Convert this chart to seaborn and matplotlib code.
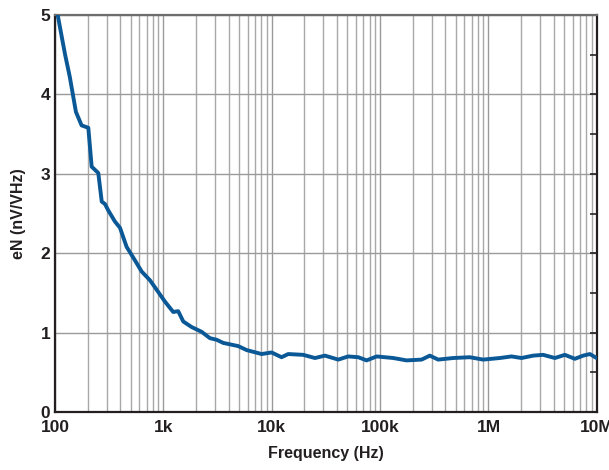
import numpy as np
import pandas as pd
import matplotlib.pyplot as plt
import seaborn as sns
from matplotlib.ticker import FixedLocator, LogLocator, NullFormatter, MultipleLocator

# Data (frequency in Hz, noise in nV/rtHz)
freq = [106, 111, 124, 137, 156, 176, 203, 218, 251, 270, 289, 310, 357, 398, 458,
        547, 630, 752, 867, 1035, 1233, 1371, 1527, 1824, 2255, 2690, 3100, 3573,
        4910, 5870, 8070, 9970, 12330, 14190, 19530, 25050, 30980, 41080, 50800,
        62840, 75100, 92900, 132200, 175500, 241400, 287900, 343600, 472400,
        673000, 893000, 1273000, 1633000, 2019000, 2587000, 3199000, 4100000,
        5070000, 6270000, 7480000, 8630000, 9940000]
noise = [5.0, 4.85, 4.5, 4.22, 3.78, 3.61, 3.58, 3.09, 3.01, 2.65, 2.62, 2.54, 2.40,
         2.32, 2.08, 1.91, 1.77, 1.66, 1.54, 1.39, 1.26, 1.27, 1.14, 1.07, 1.01, 0.93,
         0.91, 0.87, 0.83, 0.78, 0.73, 0.75, 0.69, 0.73, 0.72, 0.68, 0.71, 0.66, 0.70,
         0.69, 0.65, 0.70, 0.68, 0.65, 0.66, 0.71, 0.66, 0.68, 0.69, 0.66, 0.68, 0.70,
         0.68, 0.71, 0.72, 0.68, 0.72, 0.67, 0.71, 0.73, 0.68]
x_ticks = [1e2, 1e3, 1e4, 1e5, 1e6, 1e7]
x_labels = ["100", "1k", "10k", "100k", "1M", "10M"]
y_ticks = [0, 1, 2, 3, 4, 5]

df = pd.DataFrame({"Frequency": freq, "eN": noise})

sns.set_theme(style="white")
plt.rcParams['font.family'] = ['Liberation Sans', 'DejaVu Sans']
plt.rcParams['font.weight'] = 'bold'

fig = plt.figure(figsize=(6.09, 4.70), dpi=100)
ax = fig.add_axes([0.0903, 0.1234, 0.8897, 0.8446])

sns.lineplot(data=df, x="Frequency", y="eN", ax=ax, color="#0b5896",
             linewidth=2.8, zorder=3)

ax.set_xscale("log")
ax.set_xlim(1e2, 1e7)
ax.set_ylim(0, 5)

ax.xaxis.set_major_locator(FixedLocator(x_ticks))
ax.set_xticklabels(x_labels)
ax.xaxis.set_minor_locator(LogLocator(base=10, subs=np.arange(2, 10)))
ax.xaxis.set_minor_formatter(NullFormatter())
ax.set_yticks(y_ticks)
ax.yaxis.set_minor_locator(MultipleLocator(0.5))

ax.grid(which="major", color="#9a9a9a", linewidth=1.0, zorder=0)
ax.grid(which="minor", axis="x", color="#a8a8a8", linewidth=1.0, zorder=0)

ax.tick_params(axis="both", which="major", direction="in", length=5, width=1.2,
               labelsize=12.5, colors="#231f20")
ax.tick_params(axis="y", which="both", right=True)
ax.tick_params(axis="y", which="minor", direction="in", length=5, width=1.2)
ax.tick_params(axis="x", which="minor", length=0)
ax.tick_params(axis="x", which="major", pad=6)

for s in ax.spines.values():
    s.set_color("#231f20")
    s.set_linewidth(1.6)
ax.spines["top"].set_color("#6d6d6d")

ax.set_xlabel("Frequency (Hz)", fontsize=11.5, fontweight="bold", color="#231f20", labelpad=8)
ax.set_ylabel("eN (nV/VHz)", fontsize=11.5, fontweight="bold", color="#231f20", labelpad=10)

plt.savefig("out.png", dpi=100)
